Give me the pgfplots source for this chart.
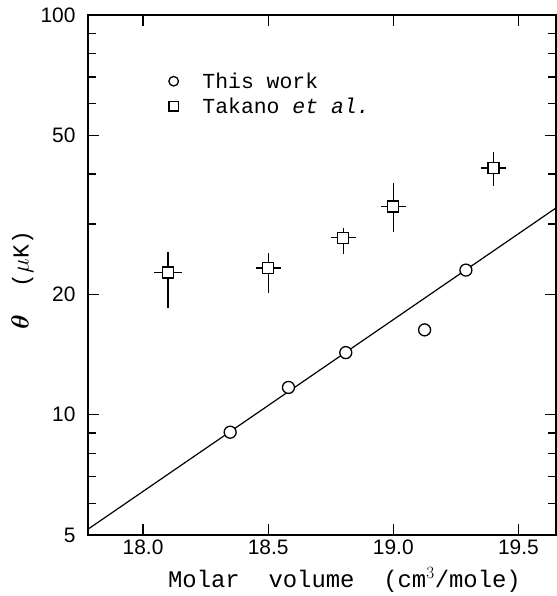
\documentclass[border=0pt]{standalone}
\usepackage{pgfplots}
\pgfplotsset{compat=1.18}
\usepackage{amsmath}
\usepackage{fontspec}
\newfontfamily\mono{Liberation Mono}
\newfontfamily\sans{Liberation Sans}
\begin{document}
\begin{tikzpicture}
\begin{axis}[
  scale only axis, width=468bp, height=520bp,
  xmin=17.78, xmax=19.65,
  ymode=log, ymin=5, ymax=100,
  axis line style={line width=1.3bp},
  tick style={line width=1.2bp, black},
  major tick length=11bp, minor tick length=8bp,
  tick align=inside,
  xtick={18,18.5,19,19.5}, xticklabels={18.0,18.5,19.0,19.5},
  ytick={5,10,20,50,100}, yticklabels={5,10,20,50,100},
  minor ytick={6,7,8,9,30,40,60,70,80,90},
  ticklabel style={font=\sans\fontsize{21}{24}\selectfont},
  yticklabel style={xshift=-9bp},
  xticklabel style={yshift=-1bp},
  xlabel={Molar\ \ volume\ \ (cm$^{3}$/mole)},
  ylabel={$\boldsymbol{\theta}$\ \ ($\mu$K)},
  xlabel style={font=\mono\fontsize{24}{26}\selectfont, at={(axis description cs:0.548,-0.087)}, anchor=center},
  ylabel style={font=\mono\fontsize{23}{26}\selectfont, at={(axis description cs:-0.14,0.49)}, anchor=center},
  legend style={draw=none, fill=none, at={(axis description cs:0.166,0.897)}, anchor=north west,
    font=\mono\fontsize{21.5}{24}\selectfont, row sep=4bp, column sep=22bp},
  legend cell align=left,
  legend image post style={mark size=4.8bp},
]
\addplot[black, line width=1.2bp, forget plot] coordinates {(17.78,5.17) (19.65,32.9)};
\addplot[only marks, mark=none, forget plot,
  error bars/.cd, x dir=both, y dir=both, x explicit, y explicit, error mark=none,
  error bar style={line width=1.3bp, black}]
  coordinates {
  (18.10,22.7) += (0.055,2.9) -= (0.055,4.2)
  (18.50,23.3) += (0.05,2.1) -= (0.05,3.1)
  (18.80,27.7) += (0.05,1.6) -= (0.05,2.5)
  (19.00,33.2) += (0.05,4.8) -= (0.05,4.6)
  (19.40,41.4) += (0.05,4.1) -= (0.05,4.0)
  };
\addplot[only marks, mark=*, mark size=6bp, mark options={draw=black, fill=white, line width=1.3bp}]
  coordinates {(18.348,9.04) (18.581,11.7) (18.81,14.3) (19.125,16.3) (19.29,23.0)};
\addlegendentry{This work}
\addplot[only marks, mark=square*, mark size=5.5bp, mark options={draw=black, fill=white, line width=1.3bp}]
  coordinates {(18.10,22.7) (18.50,23.3) (18.80,27.7) (19.00,33.2) (19.40,41.4)};
\addlegendentry{Takano \textit{et al.}}
\end{axis}
\pgfresetboundingbox
\path[use as bounding box] (current axis.south west) ++(-88bp,-61bp) rectangle ++(557bp,596bp);
\end{tikzpicture}
\end{document}
